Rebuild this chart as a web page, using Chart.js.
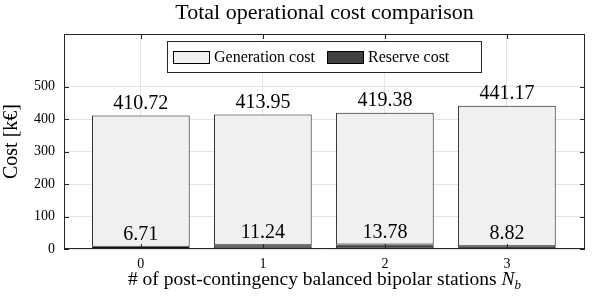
<!DOCTYPE html>
<html>
<head>
<meta charset="utf-8">
<script src="https://cdn.jsdelivr.net/npm/chart.js@4.4.0/dist/chart.umd.min.js"></script>
<style>
  html, body { margin: 0; padding: 0; background: #fff; }
</style>
</head>
<body>
<canvas id="costChart" width="598" height="299"></canvas>
<script>
// Data (k€)
const stations = [0, 1, 2, 3];
const generationCost = [404.01, 402.71, 405.60, 432.35];
const reserveCost = [6.71, 11.24, 13.78, 8.82];
const yTicks = [0, 100, 200, 300, 400, 500];

const SERIF = '"Liberation Serif", "Times New Roman", serif';
const FRAME = '#262626';

// Title, x label, legend, frame, inward ticks and value labels
const decorations = {
    id: 'decorations',
    afterDraw(chart) {
        const ctx = chart.ctx;
        const ca = chart.chartArea;
        const midX = (ca.left + ca.right) / 2;
        ctx.save();

        // value labels
        ctx.fillStyle = '#000';
        ctx.font = '20px ' + SERIF;
        ctx.textAlign = 'center';
        ctx.textBaseline = 'alphabetic';
        chart.getDatasetMeta(0).data.forEach((bar, i) => {
            ctx.fillText(reserveCost[i].toFixed(2), bar.x, bar.y - 7);
        });
        chart.getDatasetMeta(1).data.forEach((bar, i) => {
            ctx.fillText((generationCost[i] + reserveCost[i]).toFixed(2), bar.x, bar.y - 7);
        });

        // frame
        ctx.strokeStyle = FRAME;
        ctx.lineWidth = 1;
        ctx.strokeRect(Math.round(ca.left) + 0.5, Math.round(ca.top) + 0.5,
            Math.round(ca.right - ca.left) - 1, Math.round(ca.bottom - ca.top) - 1);

        // inward ticks
        const ys = chart.scales.y, xs = chart.scales.x;
        ctx.beginPath();
        yTicks.forEach(v => {
            const py = Math.round(ys.getPixelForValue(v)) + 0.5;
            ctx.moveTo(ca.left, py); ctx.lineTo(ca.left + 5, py);
            ctx.moveTo(ca.right - 5, py); ctx.lineTo(ca.right, py);
        });
        stations.forEach(v => {
            const px = Math.round(xs.getPixelForValue(v)) + 0.5;
            ctx.moveTo(px, ca.bottom); ctx.lineTo(px, ca.bottom - 5);
            ctx.moveTo(px, ca.top); ctx.lineTo(px, ca.top + 5);
        });
        ctx.stroke();

        // title
        ctx.fillStyle = '#000';
        ctx.font = '22px ' + SERIF;
        ctx.textAlign = 'center';
        ctx.fillText('Total operational cost comparison', midX, 19);

        // x label with N_b
        const main = '# of post-contingency balanced bipolar stations ';
        ctx.font = '19.5px ' + SERIF;
        const wMain = ctx.measureText(main).width;
        ctx.font = 'italic 19.5px ' + SERIF;
        const wN = ctx.measureText('N').width;
        ctx.font = 'italic 13px ' + SERIF;
        const wb = ctx.measureText('b').width;
        let x0 = midX - (wMain + wN + wb) / 2;
        ctx.textAlign = 'left';
        ctx.font = '19.5px ' + SERIF;
        ctx.fillText(main, x0, 285);
        ctx.font = 'italic 19.5px ' + SERIF;
        ctx.fillText('N', x0 + wMain, 285);
        ctx.font = 'italic 13px ' + SERIF;
        ctx.fillText('b', x0 + wMain + wN, 289);

        // legend
        const lx = 167.5, ly = 41.5, lw = 314, lh = 31;
        ctx.fillStyle = '#fff';
        ctx.fillRect(lx, ly, lw, lh);
        ctx.strokeStyle = FRAME;
        ctx.strokeRect(lx, ly, lw, lh);
        const items = [
            { label: 'Generation cost', color: '#f0f0f0', x: 173 },
            { label: 'Reserve cost', color: '#404040', x: 327 }
        ];
        ctx.font = '16px ' + SERIF;
        ctx.textBaseline = 'middle';
        items.forEach(it => {
            ctx.fillStyle = it.color;
            ctx.fillRect(it.x + 0.5, 51.5, 36, 12);
            ctx.strokeStyle = '#000';
            ctx.strokeRect(it.x + 0.5, 51.5, 36, 12);
            ctx.fillStyle = '#000';
            ctx.fillText(it.label, it.x + 41, 57.5);
        });

        ctx.restore();
    }
};

const ctx = document.getElementById('costChart').getContext('2d');
const costChart = new Chart(ctx, {
    type: 'bar',
    data: {
        datasets: [
            {
                label: 'Reserve cost',
                data: stations.map((s, i) => ({ x: s, y: reserveCost[i] })),
                backgroundColor: '#404040',
                borderColor: '#111',
                borderWidth: 1,
                borderSkipped: false,
                barPercentage: 0.8,
                categoryPercentage: 1
            },
            {
                label: 'Generation cost',
                data: stations.map((s, i) => ({ x: s, y: generationCost[i] })),
                backgroundColor: '#f0f0f0',
                borderColor: '#111',
                borderWidth: 1,
                borderSkipped: false,
                barPercentage: 0.8,
                categoryPercentage: 1
            }
        ]
    },
    options: {
        responsive: false,
        animation: false,
        devicePixelRatio: 1,
        layout: { padding: { top: 34, right: 13, left: 0, bottom: 0 } },
        plugins: {
            legend: { display: false },
            tooltip: { enabled: false }
        },
        scales: {
            x: {
                type: 'linear',
                stacked: true,
                offset: false,
                min: -0.63,
                max: 3.64,
                afterBuildTicks: scale => { scale.ticks = stations.map(v => ({ value: v })); },
                afterFit: scale => { scale.height = 50; },
                grid: { color: '#e4e4e4', drawTicks: false, offset: false },
                border: { display: false },
                ticks: {
                    color: '#000',
                    font: { family: SERIF, size: 14 },
                    padding: 7,
                    maxRotation: 0
                }
            },
            y: {
                stacked: true,
                min: 0,
                max: 662,
                afterBuildTicks: scale => { scale.ticks = yTicks.map(v => ({ value: v })); },
                afterFit: scale => { scale.width = 64; },
                grid: { color: '#e4e4e4', drawTicks: false },
                border: { display: false },
                ticks: {
                    color: '#000',
                    font: { family: SERIF, size: 14 },
                    padding: 9
                },
                title: {
                    display: true,
                    text: 'Cost [k€]',
                    color: '#000',
                    font: { family: SERIF, size: 20 },
                    padding: { top: 0, bottom: 0 }
                }
            }
        }
    },
    plugins: [decorations]
});
</script>
</body>
</html>
